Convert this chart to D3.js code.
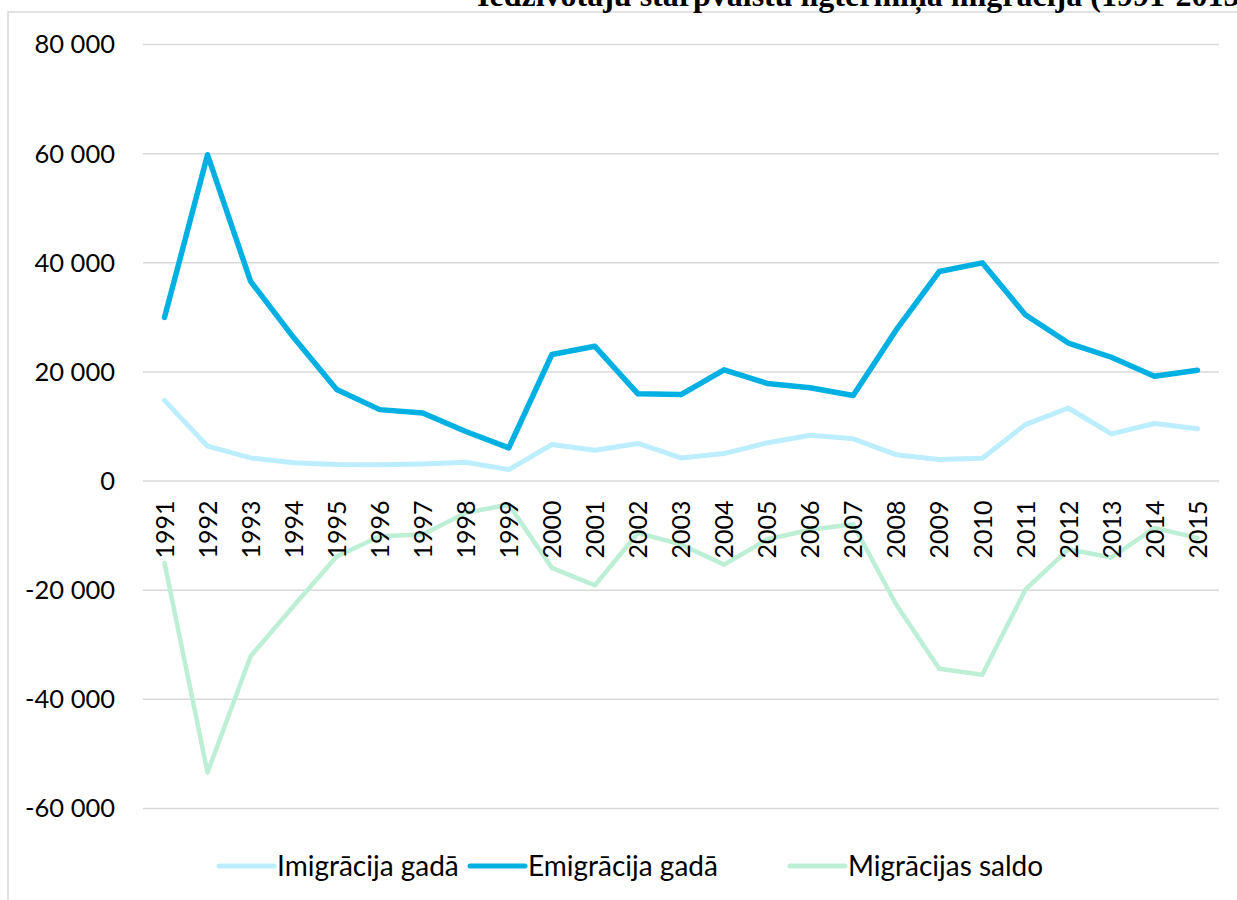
<!DOCTYPE html>
<html lang="lv">
<head>
<meta charset="UTF-8">
<title>Iedzīvotāju starpvalstu ilgtermiņa migrācija</title>
<script src="https://d3js.org/d3.v7.min.js"></script>
<style>
    body { margin: 0; background: #fff; }
    .grid line { stroke: #d9d9d9; stroke-width: 1.5; }
    .grid path { display: none; }
    .series { fill: none; stroke-linejoin: round; stroke-linecap: round; }
    .ylab text { font-family: Lato, "Open Sans", sans-serif; font-size: 25.5px; fill: #000; }
    .xlab text { font-family: Lato, "Open Sans", sans-serif; font-size: 25px; fill: #000; }
    .legend text { font-family: Lato, "Open Sans", sans-serif; font-size: 28px; fill: #000; }
</style>
</head>
<body>
<svg width="1237" height="900"></svg>
<script>
    // years on the x axis
    const years = ["1991","1992","1993","1994","1995","1996","1997","1998","1999","2000",
        "2001","2002","2003","2004","2005","2006","2007","2008","2009","2010",
        "2011","2012","2013","2014","2015"];

    // series
    const imigracija = [14700, 6300, 4150, 3250, 2950, 2900, 3050, 3350, 2000, 6600,
        5550, 6800, 4150, 4950, 6900, 8300, 7650, 4750, 3850, 4100,
        10250, 13300, 8550, 10450, 9500];
    const emigracija = [29900, 59700, 36500, 26200, 16700, 13000, 12400, 9000, 6000, 23100,
        24600, 15900, 15750, 20300, 17800, 17000, 15600, 27600, 38300, 39900,
        30400, 25200, 22600, 19100, 20200];
    const saldo = [-15100, -53500, -32200, -23000, -13900, -10200, -9900, -5900, -4400, -16000,
        -19200, -9600, -11700, -15400, -10800, -9000, -8000, -22700, -34500, -35600,
        -20000, -12600, -14100, -8700, -10500];

    const yTicks = [80000, 60000, 40000, 20000, 0, -20000, -40000, -60000];
    const seriesNames = ["Imigrācija gadā", "Emigrācija gadā", "Migrācijas saldo"];
    const colors = ["#bdeeff", "#00b0e3", "#bdefd6"];

    const svg = d3.select("svg");
    const left = 143, right = 1219;

    const x = d3.scalePoint().domain(years).range([left, right]).padding(0.5);
    const y = d3.scaleLinear().domain([-60000, 80000]).range([808, 44]);

    const fmt = v => d3.format(",")(v).replace(/,/g, " ").replace("−", "-");

    // frame border (partly outside the crop)
    svg.append("rect")
        .attr("x", 8).attr("y", 12)
        .attr("width", 1300).attr("height", 1000)
        .attr("fill", "none").attr("stroke", "#d9d9d9").attr("stroke-width", 1.5);

    // title, cut at the top like the original
    svg.append("text")
        .attr("x", 477).attr("y", 6)
        .attr("font-family", "'Liberation Serif', 'Times New Roman', serif")
        .attr("font-weight", "bold")
        .attr("font-size", 32)
        .text("Iedzīvotāju starpvalstu ilgtermiņa migrācija (1991-2015)");

    // gridlines
    svg.append("g")
        .attr("class", "grid")
        .attr("transform", `translate(${left},0)`)
        .call(d3.axisLeft(y).tickValues(yTicks).tickSize(-(right - left)).tickFormat(""));

    // y labels
    svg.append("g")
        .attr("class", "ylab")
        .attr("transform", "translate(115,0)")
        .call(d3.axisLeft(y).tickValues(yTicks).tickSize(0).tickPadding(0).tickFormat(fmt))
        .call(g => g.select(".domain").remove())
        .selectAll("text").attr("dy", "0.35em");

    // lines
    const line = d3.line().x((d, i) => x(years[i])).y(d => y(d));
    const data = [imigracija, emigracija, saldo];
    const widths = [5, 5.5, 4.5];
    svg.selectAll(".series")
        .data(data)
        .enter().append("path")
        .attr("class", "series")
        .attr("stroke", (d, i) => colors[i])
        .attr("stroke-width", (d, i) => widths[i])
        .attr("d", line);

    // x labels, rotated, just under the zero line
    const xg = svg.append("g")
        .attr("class", "xlab")
        .attr("transform", `translate(0,${y(0)})`)
        .call(d3.axisBottom(x).tickSize(0).tickPadding(0))
        .call(g => g.select(".domain").remove());
    xg.selectAll("text")
        .attr("text-anchor", "end")
        .attr("transform", "rotate(-90)")
        .attr("x", -20)
        .attr("y", 0)
        .attr("dy", "0.35em");

    // legend
    const legendX = [219, 470, 790];
    const lg = svg.append("g").attr("class", "legend");
    seriesNames.forEach((name, i) => {
        lg.append("line")
            .attr("x1", legendX[i]).attr("x2", legendX[i] + 55)
            .attr("y1", 866).attr("y2", 866)
            .attr("stroke", colors[i]).attr("stroke-width", 5)
            .attr("stroke-linecap", "round");
        lg.append("text")
            .attr("x", legendX[i] + 58).attr("y", 866)
            .attr("dy", "0.35em")
            .text(name);
    });
</script>
</body>
</html>
